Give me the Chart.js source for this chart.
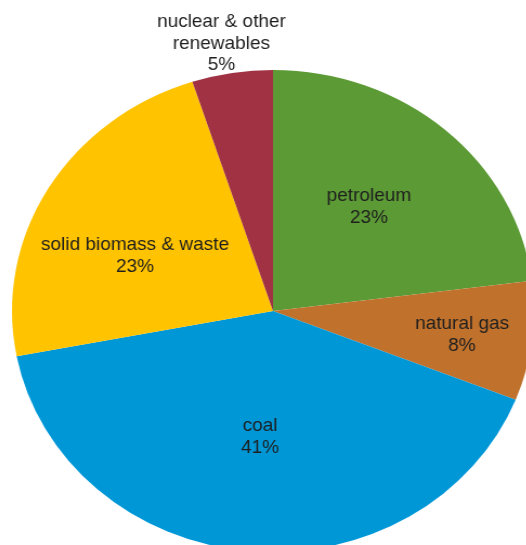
<!DOCTYPE html>
<html>
<head>
<meta charset="utf-8">
<script src="https://cdn.jsdelivr.net/npm/chart.js@4"></script>
<style>
  html, body { margin: 0; padding: 0; background: #fff; overflow: hidden; }
  #wrap { position: absolute; left: 0; top: 0; width: 526px; height: 545px; overflow: hidden; }
  /* the source pie is slightly wider than tall */
  #pie { transform: scaleX(1.083); transform-origin: 273px 311px; }
</style>
</head>
<body>
<div id="wrap"><canvas id="pie" width="526" height="545"></canvas></div>
<script>
const categories = ['petroleum', 'natural gas', 'coal', 'solid biomass & waste', 'nuclear & other\nrenewables'];
const shares = [23, 8, 41, 23, 5];
const colors = ['#5C9A35', '#C0722D', '#0097D7', '#FFC300', '#A03244'];

// label anchor: fraction of radius, angle shift in degrees
const labelPlace = [[0.567, -1.0], [0.731, 0.6], [0.525, 0], [0.576, -7.2], [1.127, -1.1]];
const stretch = 1.083;

const labelPlugin = {
    id: 'sliceLabels',
    afterDraw(chart) {
        const ctx = chart.ctx;
        const arcs = chart.getDatasetMeta(0).data;
        ctx.save();
        ctx.font = '19px "Liberation Sans", Arial, sans-serif';
        ctx.fillStyle = '#1e1e1e';
        ctx.textAlign = 'center';
        ctx.textBaseline = 'middle';
        arcs.forEach((arc, i) => {
            const mid = (arc.startAngle + arc.endAngle) / 2 + labelPlace[i][1] * Math.PI / 180;
            const r = arc.outerRadius * labelPlace[i][0];
            const x = arc.x + Math.cos(mid) * r;
            const y = arc.y + Math.sin(mid) * r;
            const lines = categories[i].split('\n').concat([shares[i] + '%']);
            const lh = 21.5;
            ctx.save();
            ctx.translate(x, y);
            ctx.scale(1 / stretch, 1);
            lines.forEach((t, j) => {
                ctx.fillText(t, 0, (j - (lines.length - 1) / 2) * lh);
            });
            ctx.restore();
        });
        ctx.restore();
    }
};

new Chart(document.getElementById('pie').getContext('2d'), {
    type: 'pie',
    data: {
        labels: categories,
        datasets: [{
            data: shares,
            backgroundColor: colors,
            borderWidth: 0,
            clip: false
        }]
    },
    options: {
        responsive: false,
        animation: false,
        radius: 241,
        layout: { padding: { left: 20, right: 0, top: 77, bottom: 0 } },
        plugins: {
            legend: { display: false },
            tooltip: { enabled: false }
        }
    },
    plugins: [labelPlugin]
});
</script>
</body>
</html>
